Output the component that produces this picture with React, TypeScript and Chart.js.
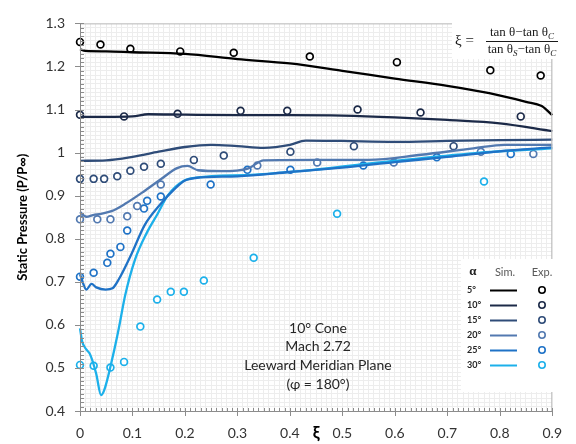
import React, { useEffect, useRef } from 'react';
import { Chart, registerables } from 'chart.js';

Chart.register(...registerables);

// ---- Data ----
const alphaLabels = ['5°', '10°', '15°', '20°', '25°', '30°'];
const seriesColors = ['#000000', '#1c2a48', '#2f4c78', '#5279b0', '#1f72c6', '#1cb0ea'];

// Simulation curves (ξ, P/P∞)
const sim5Xi = [0, 0.01, 0.05, 0.1, 0.2, 0.3, 0.4, 0.5, 0.6, 0.7, 0.78, 0.85, 0.88, 0.9];
const sim5P = [1.240, 1.236, 1.235, 1.233, 1.229, 1.217, 1.207, 1.190, 1.172, 1.155, 1.138, 1.118, 1.108, 1.087];

const sim10Xi = [0, 0.05, 0.1, 0.13, 0.2, 0.3, 0.4, 0.5, 0.6, 0.7, 0.8, 0.9];
const sim10P = [1.083, 1.083, 1.084, 1.089, 1.088, 1.087, 1.087, 1.086, 1.082, 1.076, 1.068, 1.050];

const sim15Xi = [0, 0.05, 0.1, 0.15, 0.2, 0.25, 0.3, 0.35, 0.4, 0.43, 0.5, 0.6, 0.7, 0.8, 0.9];
const sim15P = [0.981, 0.982, 0.990, 1.002, 1.013, 1.018, 1.015, 1.011, 1.018, 1.028, 1.027, 1.025, 1.027, 1.029, 1.030];

const sim20Xi = [0, 0.012, 0.025, 0.04, 0.06, 0.086, 0.123, 0.154, 0.185, 0.205, 0.225, 0.27, 0.32, 0.35, 0.45, 0.55, 0.65, 0.75, 0.81, 0.9];
const sim20P = [0.862, 0.851, 0.855, 0.858, 0.864, 0.881, 0.911, 0.938, 0.964, 0.969, 0.959, 0.957, 0.963, 0.982, 0.983, 0.983, 0.995, 1.010, 1.018, 1.018];

const sim25Xi = [0, 0.004, 0.012, 0.022, 0.031, 0.049, 0.062, 0.074, 0.099, 0.123, 0.154, 0.18, 0.2, 0.22, 0.3, 0.4, 0.5, 0.6, 0.7, 0.8, 0.9];
const sim25P = [0.718, 0.703, 0.682, 0.695, 0.687, 0.682, 0.685, 0.706, 0.767, 0.831, 0.881, 0.915, 0.935, 0.941, 0.945, 0.955, 0.965, 0.978, 0.990, 1.003, 1.012];

const sim30Xi = [0, 0.004, 0.012, 0.019, 0.031, 0.04, 0.046, 0.062, 0.074, 0.086, 0.105, 0.127, 0.148, 0.167, 0.197, 0.222, 0.333, 0.444, 0.593, 0.753, 0.9];
const sim30P = [0.592, 0.562, 0.543, 0.532, 0.486, 0.437, 0.448, 0.524, 0.592, 0.668, 0.752, 0.813, 0.858, 0.900, 0.934, 0.942, 0.949, 0.960, 0.980, 0.999, 1.010];

// Experimental points (ξ, P/P∞)
const exp5Xi = [0, 0.039, 0.096, 0.191, 0.293, 0.438, 0.604, 0.782, 0.878];
const exp5P = [1.257, 1.251, 1.241, 1.235, 1.232, 1.223, 1.210, 1.191, 1.179];

const exp10Xi = [0, 0.084, 0.186, 0.306, 0.395, 0.529, 0.649, 0.84];
const exp10P = [1.088, 1.084, 1.090, 1.097, 1.097, 1.100, 1.093, 1.084];

const exp15Xi = [0, 0.026, 0.046, 0.071, 0.096, 0.122, 0.154, 0.217, 0.274, 0.401, 0.522, 0.712];
const exp15P = [0.939, 0.939, 0.939, 0.945, 0.958, 0.967, 0.974, 0.983, 0.993, 1.002, 1.015, 1.015];

const exp20Xi = [0, 0.033, 0.058, 0.09, 0.109, 0.154, 0.338, 0.452, 0.598, 0.764, 0.864];
const exp20P = [0.845, 0.845, 0.845, 0.852, 0.876, 0.926, 0.970, 0.977, 0.977, 1.002, 0.997];

const exp25Xi = [0, 0.026, 0.052, 0.058, 0.077, 0.09, 0.122, 0.128, 0.154, 0.249, 0.319, 0.401, 0.54, 0.68, 0.821];
const exp25P = [0.712, 0.721, 0.744, 0.765, 0.781, 0.819, 0.870, 0.888, 0.898, 0.926, 0.960, 0.960, 0.970, 0.989, 0.997];

const exp30Xi = [0, 0.026, 0.058, 0.084, 0.115, 0.147, 0.173, 0.198, 0.236, 0.331, 0.49, 0.77];
const exp30P = [0.507, 0.505, 0.501, 0.514, 0.596, 0.659, 0.677, 0.677, 0.703, 0.756, 0.858, 0.933];

const simXi = [sim5Xi, sim10Xi, sim15Xi, sim20Xi, sim25Xi, sim30Xi];
const simP = [sim5P, sim10P, sim15P, sim20P, sim25P, sim30P];
const expXi = [exp5Xi, exp10Xi, exp15Xi, exp20Xi, exp25Xi, exp30Xi];
const expP = [exp5P, exp10P, exp15P, exp20P, exp25P, exp30P];

const annotationLines = ['10° Cone', 'Mach 2.72', 'Leeward Meridian Plane', '(φ = 180°)'];

const X_MIN = 0, X_MAX = 0.9, Y_MIN = 0.4, Y_MAX = 1.3, STEP = 0.01;

const FONT = 'Lato, "Open Sans", sans-serif';
const SERIF = '"Liberation Serif", "DejaVu Serif", serif';

type Seg = { t: string; sub?: boolean };

function drawRich(ctx: CanvasRenderingContext2D, segs: Seg[], cx: number, baseline: number, size: number) {
  const main = `${size}px ${SERIF}`;
  const subF = `italic ${Math.round(size * 0.72)}px ${SERIF}`;
  let w = 0;
  for (const s of segs) { ctx.font = s.sub ? subF : main; w += ctx.measureText(s.t).width; }
  let x = cx - w / 2;
  ctx.textAlign = 'left';
  ctx.textBaseline = 'alphabetic';
  for (const s of segs) {
    ctx.font = s.sub ? subF : main;
    ctx.fillText(s.t, x, baseline + (s.sub ? 3 : 0));
    x += ctx.measureText(s.t).width;
  }
}

const decorPlugin = {
  id: 'decor',
  afterDraw(chart: any) {
    const { ctx, chartArea: a, scales } = chart;
    const xs = scales.x, ys = scales.y;
    ctx.save();
    // frame top / right
    ctx.strokeStyle = '#bdbdbd';
    ctx.lineWidth = 1;
    ctx.beginPath();
    ctx.moveTo(a.left, a.top + 0.5);
    ctx.lineTo(a.right - 0.5, a.top + 0.5);
    ctx.lineTo(a.right - 0.5, a.bottom);
    ctx.stroke();
    // axes
    ctx.strokeStyle = '#8c8c8c';
    ctx.beginPath();
    ctx.moveTo(a.left + 0.5, a.top);
    ctx.lineTo(a.left + 0.5, a.bottom + 0.5);
    ctx.lineTo(a.right, a.bottom + 0.5);
    // tick marks
    const nx = Math.round((X_MAX - X_MIN) / STEP);
    for (let i = 0; i <= nx; i++) {
      const px = Math.round(xs.getPixelForValue(X_MIN + i * STEP)) + 0.5;
      const major = i % 10 === 0;
      ctx.moveTo(px, a.bottom - 3);
      ctx.lineTo(px, a.bottom + (major ? 5 : 0));
    }
    const ny = Math.round((Y_MAX - Y_MIN) / STEP);
    for (let i = 0; i <= ny; i++) {
      const py = Math.round(ys.getPixelForValue(Y_MIN + i * STEP)) + 0.5;
      const major = i % 10 === 0;
      ctx.moveTo(a.left - (major ? 5 : 0), py);
      ctx.lineTo(a.left + 4, py);
    }
    ctx.stroke();

    // formula box
    ctx.fillStyle = '#ffffff';
    ctx.fillRect(452, 21, 110, 38);
    ctx.fillStyle = '#1a1a1a';
    ctx.font = `15px ${SERIF}`;
    ctx.textAlign = 'left';
    ctx.textBaseline = 'alphabetic';
    ctx.fillText('ξ =', 455, 45);
    drawRich(ctx, [{ t: 'tan θ−tan θ' }, { t: 'C', sub: true }], 522, 36, 13);
    drawRich(ctx, [{ t: 'tan θ' }, { t: 'S', sub: true }, { t: '−tan θ' }, { t: 'C', sub: true }], 522, 53, 13);
    ctx.strokeStyle = '#1a1a1a';
    ctx.lineWidth = 1;
    ctx.beginPath();
    ctx.moveTo(486, 41.5);
    ctx.lineTo(558, 41.5);
    ctx.stroke();

    // annotation
    ctx.fillStyle = '#262626';
    ctx.font = `14px ${FONT}`;
    ctx.textAlign = 'center';
    ctx.textBaseline = 'middle';
    annotationLines.forEach((t, i) => ctx.fillText(t, 318, 328 + i * 18.7));

    // legend table
    const lx = 461, ly = 259, lw = 95, lh = 133;
    ctx.fillStyle = '#ffffff';
    ctx.fillRect(lx, ly, lw, lh);
    ctx.fillStyle = '#222222';
    ctx.font = `bold 13px ${SERIF}`;
    ctx.textAlign = 'center';
    ctx.fillText('α', 473, 272);
    ctx.fillStyle = '#595959';
    ctx.font = `11px ${FONT}`;
    ctx.fillText('Sim.', 505, 272);
    ctx.fillText('Exp.', 542, 272);
    alphaLabels.forEach((lab, i) => {
      const y = 290 + i * 15;
      ctx.fillStyle = '#262626';
      ctx.font = `bold 9px ${FONT}`;
      ctx.textAlign = 'left';
      ctx.fillText(lab, 467, y);
      ctx.strokeStyle = seriesColors[i];
      ctx.lineWidth = 2;
      ctx.beginPath();
      ctx.moveTo(490, y + 0.5);
      ctx.lineTo(517, y + 0.5);
      ctx.stroke();
      ctx.lineWidth = 1.6;
      ctx.beginPath();
      ctx.arc(542, y, 3.2, 0, Math.PI * 2);
      ctx.stroke();
    });
    ctx.restore();
  },
};

function tickLabel(v: number) {
  const k = Math.round(v * 100);
  if (k % 10 !== 0) return '';
  return String(k / 100);
}

export default function App() {
  const ref = useRef<HTMLCanvasElement | null>(null);
  useEffect(() => {
    if (!ref.current) return;
    const datasets: any[] = [];
    for (let i = 0; i < 6; i++) {
      datasets.push({
        type: 'line',
        label: `Sim ${alphaLabels[i]}`,
        data: simXi[i].map((x, j) => ({ x, y: simP[i][j] })),
        borderColor: seriesColors[i],
        borderWidth: 2.3,
        pointRadius: 0,
        fill: false,
        cubicInterpolationMode: 'monotone',
        clip: false,
      });
    }
    for (let i = 0; i < 6; i++) {
      datasets.push({
        type: 'scatter',
        label: `Exp ${alphaLabels[i]}`,
        data: expXi[i].map((x, j) => ({ x, y: expP[i][j] })),
        borderColor: seriesColors[i],
        backgroundColor: '#ffffff',
        borderWidth: 1.7,
        pointRadius: 3.4,
        pointStyle: 'circle',
        showLine: false,
        clip: false,
      });
    }
    const chart = new Chart(ref.current, {
      type: 'scatter',
      data: { datasets },
      plugins: [decorPlugin],
      options: {
        responsive: false,
        animation: false,
        layout: { padding: { top: 16, right: 10, left: 0, bottom: 0 } },
        plugins: { legend: { display: false }, tooltip: { enabled: false } },
        scales: {
          x: {
            type: 'linear',
            min: X_MIN,
            max: X_MAX,
            afterFit: (s: any) => { s.height = 33; },
            border: { display: false },
            grid: { color: '#ededed', lineWidth: 1, drawTicks: false },
            ticks: {
              stepSize: STEP,
              autoSkip: false,
              maxRotation: 0,
              minRotation: 0,
              padding: 14,
              color: '#333333',
              font: { family: FONT, size: 14 },
              callback: (v: any) => tickLabel(Number(v)),
            },
            title: {
              display: true,
              text: 'ξ',
              color: '#000000',
              font: { family: FONT, size: 17, weight: 'bold' },
              padding: { top: 0, bottom: 1 },
            },
          },
          y: {
            type: 'linear',
            min: Y_MIN,
            max: Y_MAX,
            afterFit: (s: any) => { s.width = 80; },
            border: { display: false },
            grid: { color: '#ededed', lineWidth: 1, drawTicks: false },
            ticks: {
              stepSize: STEP,
              autoSkip: false,
              padding: 15,
              color: '#333333',
              font: { family: FONT, size: 14 },
              callback: (v: any) => tickLabel(Number(v)),
            },
            title: {
              display: true,
              text: 'Static Pressure (P/P∞)',
              color: '#000000',
              font: { family: FONT, size: 13, weight: 'bold' },
              padding: { top: 15, bottom: 0 },
            },
          },
        },
      } as any,
    });
    return () => chart.destroy();
  }, []);
  return (
    <div style={{ position: 'absolute', left: 0, top: 0, width: 576, height: 444, background: '#ffffff' }}>
      <canvas ref={ref} width={576} height={444} />
    </div>
  );
}
